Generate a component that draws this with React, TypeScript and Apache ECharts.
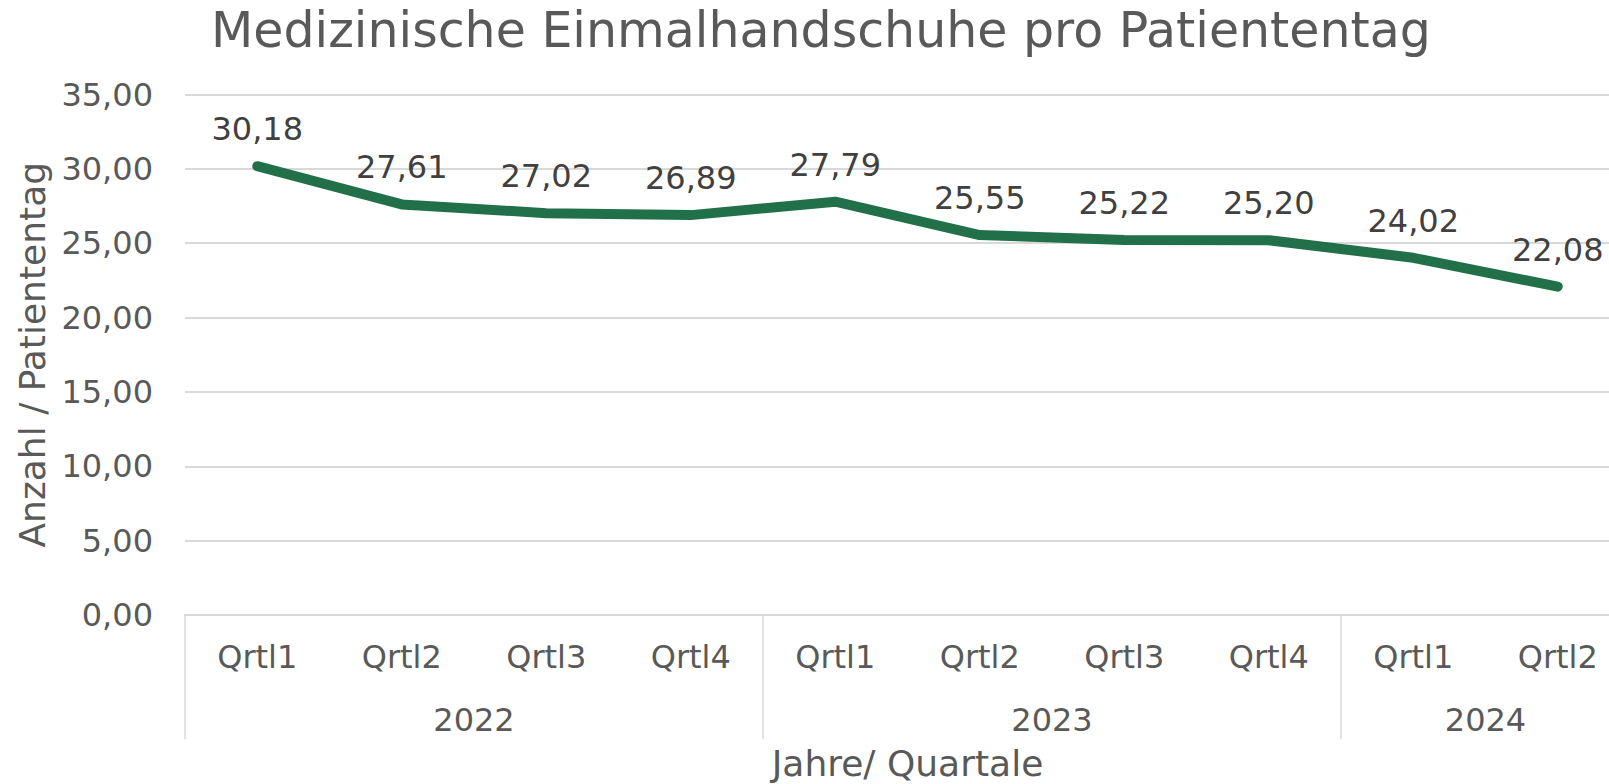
import React, { useEffect, useRef } from "react";
import * as echarts from "echarts";

const title = "Medizinische Einmalhandschuhe pro Patiententag";
const quarters = ["Qrtl1", "Qrtl2", "Qrtl3", "Qrtl4", "Qrtl1", "Qrtl2", "Qrtl3", "Qrtl4", "Qrtl1", "Qrtl2"];
const years = ["2022", "2023", "2024"];
const yearGroupSizes = [4, 4, 2];
const values = [30.18, 27.61, 27.02, 26.89, 27.79, 25.55, 25.22, 25.2, 24.02, 22.08];
const yTicks = [0, 5, 10, 15, 20, 25, 30, 35];
const yName = "Anzahl / Patiententag";
const xName = "Jahre/ Quartale";

const SANS = "'DejaVu Sans', Verdana, sans-serif";
const fmt = (v: number) => v.toFixed(2).replace(".", ",");

export default function App() {
  const ref = useRef<HTMLDivElement>(null);
  useEffect(() => {
    if (!ref.current) return;
    const chart = echarts.init(ref.current, undefined, { renderer: "svg" });

    const halfCount = quarters.length * 2;
    const yearAxisData: string[] = new Array(halfCount + 1).fill("");
    const boundaryIdx: number[] = [0];
    const labelIdx: number[] = [];
    let pos = 0;
    yearGroupSizes.forEach((size, i) => {
      const center = pos * 2 + size;
      yearAxisData[center] = years[i];
      labelIdx.push(center);
      pos += size;
      boundaryIdx.push(pos * 2);
    });

    chart.setOption({
      animation: false,
      backgroundColor: "#ffffff",
      title: {
        text: title,
        left: 206,
        top: 1,
        textStyle: { fontFamily: SANS, fontSize: 49, fontWeight: "normal", color: "#595959" },
      },
      grid: { left: 185, top: 94.5, width: 1445, height: 520.5, outerBoundsMode: "none", containLabel: false },
      xAxis: [
        {
          type: "category",
          data: quarters,
          boundaryGap: true,
          position: "bottom",
          axisLine: { show: true, lineStyle: { color: "#d9d9d9", width: 2 } },
          axisTick: { show: false },
          axisLabel: { fontFamily: SANS, fontSize: 32, color: "#595959", margin: 26, interval: 0 },
          name: xName,
          nameLocation: "middle",
          nameGap: 130.5,
          nameTextStyle: { fontFamily: SANS, fontSize: 36, color: "#595959" },
          splitLine: { show: false },
        },
        {
          type: "category",
          data: yearAxisData,
          boundaryGap: false,
          position: "bottom",
          offset: 0,
          axisLine: { show: false },
          axisTick: {
            show: true,
            length: 124,
            interval: (idx: number) => boundaryIdx.includes(idx),
            lineStyle: { color: "#d9d9d9", width: 1.5 },
          },
          axisLabel: {
            fontFamily: SANS,
            fontSize: 32,
            color: "#595959",
            margin: 89,
            interval: (idx: number) => labelIdx.includes(idx),
          },
          splitLine: { show: false },
        },
      ],
      yAxis: {
        type: "value",
        min: yTicks[0],
        max: yTicks[yTicks.length - 1],
        interval: yTicks[1] - yTicks[0],
        axisLine: { show: false },
        axisTick: { show: false },
        axisLabel: { fontFamily: SANS, fontSize: 32, color: "#595959", margin: 32, formatter: (v: number) => fmt(v) },
        splitLine: { lineStyle: { color: "#d9d9d9", width: 2 } },
        name: yName,
        nameLocation: "middle",
        nameGap: 132,
        nameRotate: 90,
        nameTextStyle: { fontFamily: SANS, fontSize: 36, color: "#595959" },
      },
      series: [
        {
          type: "line",
          data: values,
          xAxisIndex: 0,
          symbol: "circle",
          symbolSize: 2,
          showSymbol: true,
          itemStyle: { color: "#21704a" },
          clip: false,
          lineStyle: { color: "#21704a", width: 10, cap: "round", join: "round" },
          label: {
            show: true,
            position: "top",
            distance: 20,
            fontFamily: SANS,
            fontSize: 32,
            color: "#404040",
            formatter: (p: any) => fmt(p.value),
          },
        },
      ],
    });
    return () => chart.dispose();
  }, []);
  return <div ref={ref} style={{ position: "absolute", left: 0, top: 0, width: 1609, height: 784 }} />;
}
